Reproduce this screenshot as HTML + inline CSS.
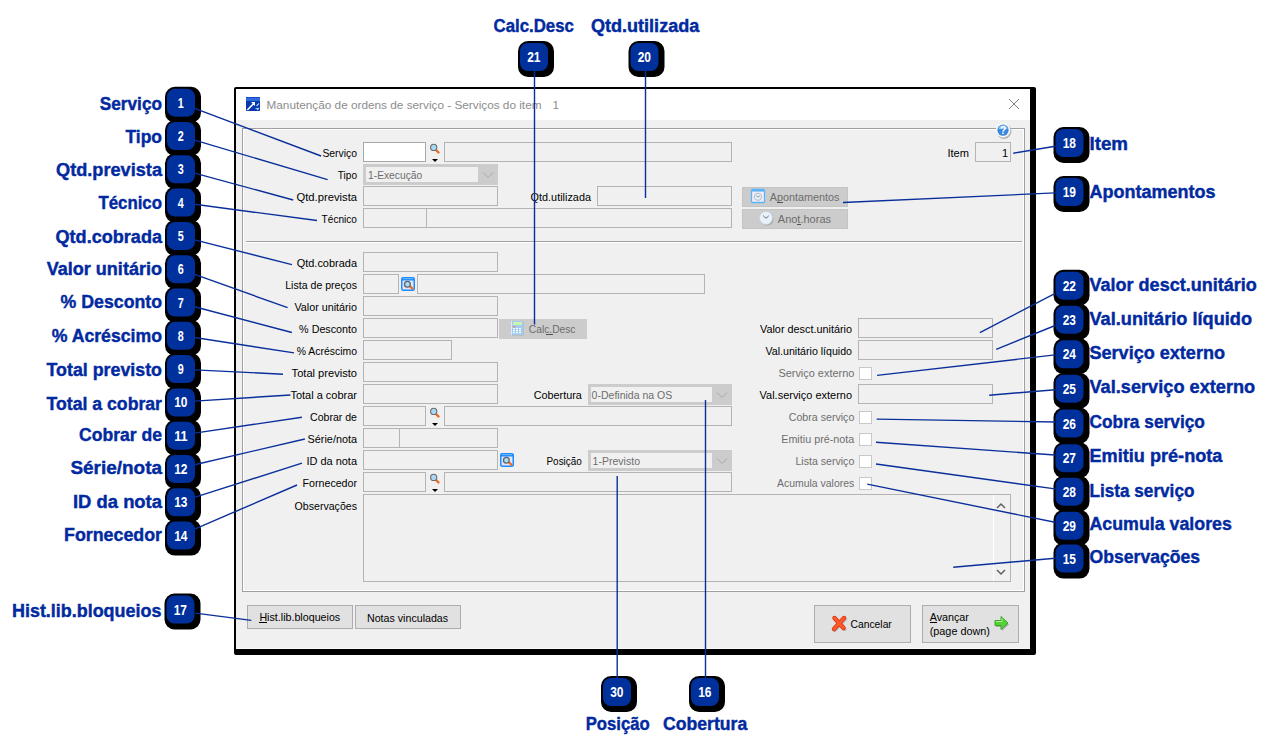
<!DOCTYPE html>
<html><head><meta charset="utf-8"><style>
html,body{margin:0;padding:0;background:#fff;width:1273px;height:753px;overflow:hidden}
svg{display:block;font-family:"Liberation Sans",sans-serif}
</style></head><body>
<svg width="1273" height="753" viewBox="0 0 1273 753">
<rect x="234" y="87" width="802" height="568" fill="#000" rx="2"/>
<rect x="236" y="89" width="794" height="560" fill="#f0f0f0"/>
<rect x="236" y="648" width="794" height="1" fill="#f8f8f8"/>
<rect x="236" y="89" width="794" height="31" fill="#ffffff"/>
<rect x="246" y="97" width="14" height="14" rx="0.8" fill="#0638b0"/>
<rect x="246" y="97" width="14" height="4" fill="#2e6ad8"/>
<rect x="246" y="97" width="14" height="1" fill="#1050d0"/>
<path d="M247.3 110 L254 103.3" stroke="#fff" stroke-width="1.6" fill="none"/>
<path d="M251 102 L255 102 L255 106 Z" fill="#fff"/>
<path d="M256.5 106 L259 103.5 M255.5 108.5 l3 0 M257 110 l2 -2" stroke="#a8c4f0" stroke-width="1.2" fill="none"/>
<text x="266.5" y="108.7" font-size="11.8" fill="#8c8c8c" textLength="275.0" lengthAdjust="spacingAndGlyphs">Manutenção de ordens de serviço - Serviços do item</text>
<text x="552.5" y="108.7" font-size="11.8" fill="#8c8c8c">1</text>
<path d="M1009 99 L1019 109 M1019 99 L1009 109" stroke="#808080" stroke-width="1"/>
<rect x="242.5" y="128.5" width="782" height="463" fill="none" stroke="#a0a0a0"/>
<rect x="243.5" y="129.5" width="780" height="461" fill="none" stroke="#ffffff"/>
<circle cx="1004" cy="131.5" r="7.5" fill="#b8b8b8"/>
<circle cx="1003" cy="130.2" r="7.2" fill="#f8f8f8"/>
<circle cx="1003" cy="130.2" r="5.6" fill="#3a88dc"/>
<path d="M998.5 129 A4.6 4.6 0 0 1 1007.5 129" fill="#8cc4f4"/>
<text x="1003" y="134.3" font-size="10" font-weight="bold" fill="#fff" text-anchor="middle">?</text>
<rect x="246" y="241" width="776" height="1" fill="#a0a0a0"/>
<rect x="246" y="242" width="776" height="1" fill="#ffffff"/>
<text x="322.4" y="157" font-size="11" fill="#000" textLength="34.6" lengthAdjust="spacingAndGlyphs">Serviço</text>
<rect x="363.5" y="142.5" width="62" height="19" fill="#ffffff" stroke="#a8a8a8" stroke-width="1"/>
<path d="M436 150 L438.5 152.5" stroke="#f06a20" stroke-width="2.4" stroke-linecap="round"/>
<circle cx="433.7" cy="147.4" r="3.1" fill="#a8d8f4" stroke="#6c6c6c" stroke-width="1.1"/>
<path d="M432 159 L438 159 L435 162 Z" fill="#000"/>
<rect x="444.5" y="142.5" width="287" height="19" fill="#f0f0f0" stroke="#b4b4b4" stroke-width="1"/>
<text x="947.4" y="157" font-size="11" fill="#000" textLength="21.6" lengthAdjust="spacingAndGlyphs">Item</text>
<rect x="975.5" y="142.5" width="35" height="19" fill="#f0f0f0" stroke="#b4b4b4" stroke-width="1"/>
<text x="1008" y="157" font-size="11" fill="#000" text-anchor="end">1</text>
<text x="337.8" y="179" font-size="11" fill="#000" textLength="19.2" lengthAdjust="spacingAndGlyphs">Tipo</text>
<rect x="363" y="164" width="135" height="21" fill="#cccccc"/>
<rect x="366" y="167" width="112" height="15" fill="#f0f0f0"/>
<path d="M483 172.5 L488 177.5 L493 172.5" stroke="#a8a8a8" stroke-width="1" fill="none"/>
<text x="368" y="179" font-size="11" fill="#6d6d6d" textLength="54.2" lengthAdjust="spacingAndGlyphs">1-Execução</text>
<text x="296.5" y="201" font-size="11" fill="#000" textLength="60.5" lengthAdjust="spacingAndGlyphs">Qtd.prevista</text>
<rect x="363.5" y="186.5" width="134" height="19" fill="#f0f0f0" stroke="#b4b4b4" stroke-width="1"/>
<text x="530.6" y="201" font-size="11" fill="#000" textLength="60.4" lengthAdjust="spacingAndGlyphs">Qtd.utilizada</text>
<rect x="597.5" y="186.5" width="134" height="19" fill="#f0f0f0" stroke="#b4b4b4" stroke-width="1"/>
<rect x="742.5" y="187.5" width="105" height="19" fill="#cccccc" stroke="#c4c4c4" stroke-width="1"/>
<rect x="751.5" y="189.5" width="13" height="13" rx="1" fill="#f0eefa" stroke="#5ab4f8" stroke-width="1.3"/>
<rect x="752" y="190" width="12" height="1.6" fill="#5ab4f8"/>
<circle cx="758" cy="196.8" r="3.6" fill="#e4f4fc" stroke="#b0b0b8" stroke-width="0.9"/>
<path d="M756.3 195.6 L758 197.2 L759.8 195.8" stroke="#707070" stroke-width="0.8" fill="none"/>
<text x="769.7" y="200.7" font-size="11" fill="#6d6d6d" textLength="69.7" lengthAdjust="spacingAndGlyphs">Apontamentos</text>
<rect x="777" y="202" width="6" height="1" fill="#505050"/>
<text x="321.6" y="223" font-size="11" fill="#000" textLength="35.4" lengthAdjust="spacingAndGlyphs">Técnico</text>
<rect x="363.5" y="208.5" width="63" height="19" fill="#f0f0f0" stroke="#b4b4b4" stroke-width="1"/>
<rect x="426.5" y="208.5" width="305" height="19" fill="#f0f0f0" stroke="#b4b4b4" stroke-width="1"/>
<rect x="742.5" y="209.5" width="105" height="19" fill="#cccccc" stroke="#c4c4c4" stroke-width="1"/>
<circle cx="767" cy="219" r="6.6" fill="#a8a8a8"/>
<circle cx="766" cy="218" r="6.5" fill="#e8f2fa" stroke="#c8d0e0" stroke-width="0.8"/>
<path d="M763.2 215.6 L766 218.3 L768.8 215.8" stroke="#6a6a6a" stroke-width="1" fill="none"/>
<text x="777.8" y="222.8" font-size="11" fill="#6d6d6d" textLength="53.2" lengthAdjust="spacingAndGlyphs">Anot.horas</text>
<rect x="797" y="224" width="4" height="1" fill="#505050"/>
<text x="296.7" y="267" font-size="11" fill="#000" textLength="60.3" lengthAdjust="spacingAndGlyphs">Qtd.cobrada</text>
<rect x="363.5" y="252.5" width="134" height="19" fill="#f0f0f0" stroke="#b4b4b4" stroke-width="1"/>
<text x="285.2" y="289" font-size="11" fill="#000" textLength="71.8" lengthAdjust="spacingAndGlyphs">Lista de preços</text>
<rect x="363.5" y="274.5" width="35" height="19" fill="#f0f0f0" stroke="#b4b4b4" stroke-width="1"/>
<rect x="401.75" y="277.75" width="12.5" height="12.5" rx="1.5" fill="#e8e4f8" stroke="#1a8cff" stroke-width="1.5"/>
<rect x="402" y="278" width="12" height="2.5" fill="#1a8cff"/>
<rect x="403" y="278.3" width="10" height="0.8" fill="#8cc8ff"/>
<path d="M409.8 286 L413 289.3" stroke="#f06a20" stroke-width="2.2"/>
<circle cx="407.4" cy="284.3" r="2.9" fill="#a8dcf4" stroke="#606468" stroke-width="1.3"/>
<rect x="417.5" y="274.5" width="287" height="19" fill="#f0f0f0" stroke="#b4b4b4" stroke-width="1"/>
<text x="294.4" y="311" font-size="11" fill="#000" textLength="62.6" lengthAdjust="spacingAndGlyphs">Valor unitário</text>
<rect x="363.5" y="296.5" width="134" height="19" fill="#f0f0f0" stroke="#b4b4b4" stroke-width="1"/>
<text x="299.1" y="333" font-size="11" fill="#000" textLength="57.9" lengthAdjust="spacingAndGlyphs">% Desconto</text>
<rect x="363.5" y="318.5" width="134" height="19" fill="#f0f0f0" stroke="#b4b4b4" stroke-width="1"/>
<rect x="499.5" y="319.5" width="87" height="19" fill="#cccccc" stroke="#cccccc" stroke-width="1"/>
<rect x="512" y="322" width="12" height="14" fill="#b4b4b4" opacity="0.6"/>
<rect x="511" y="321" width="12" height="14" fill="#a0ccf4"/>
<rect x="511" y="321" width="1" height="14" fill="#d8ecfc"/>
<rect x="513" y="322" width="9" height="3" fill="#c8f4b0"/>
<rect x="513" y="326" width="2" height="1.5" fill="#f08070"/>
<rect x="513" y="328" width="2" height="1.2" fill="#ffffff"/>
<rect x="516" y="328" width="2" height="1.2" fill="#ffffff"/>
<rect x="519" y="328" width="2" height="1.2" fill="#ffffff"/>
<rect x="513" y="330" width="2" height="1.2" fill="#ffffff"/>
<rect x="516" y="330" width="2" height="1.2" fill="#ffffff"/>
<rect x="519" y="330" width="2" height="1.2" fill="#ffffff"/>
<rect x="513" y="332" width="2" height="1.2" fill="#ffffff"/>
<rect x="516" y="332" width="2" height="1.2" fill="#ffffff"/>
<rect x="519" y="332" width="2" height="1.2" fill="#ffffff"/>
<text x="528.8" y="333" font-size="11" fill="#6d6d6d" textLength="46.7" lengthAdjust="spacingAndGlyphs">Calc.Desc</text>
<rect x="546" y="334" width="7" height="1" fill="#505050"/>
<text x="760" y="333" font-size="11" fill="#000" textLength="92.0" lengthAdjust="spacingAndGlyphs">Valor desct.unitário</text>
<rect x="858.5" y="318.5" width="134" height="19" fill="#f0f0f0" stroke="#b4b4b4" stroke-width="1"/>
<text x="296.7" y="355" font-size="11" fill="#000" textLength="60.3" lengthAdjust="spacingAndGlyphs">% Acréscimo</text>
<rect x="363.5" y="340.5" width="88" height="19" fill="#f0f0f0" stroke="#b4b4b4" stroke-width="1"/>
<text x="765.5" y="355" font-size="11" fill="#000" textLength="86.5" lengthAdjust="spacingAndGlyphs">Val.unitário líquido</text>
<rect x="858.5" y="340.5" width="134" height="19" fill="#f0f0f0" stroke="#b4b4b4" stroke-width="1"/>
<text x="291.6" y="377" font-size="11" fill="#000" textLength="65.4" lengthAdjust="spacingAndGlyphs">Total previsto</text>
<rect x="363.5" y="362.5" width="134" height="19" fill="#f0f0f0" stroke="#b4b4b4" stroke-width="1"/>
<text x="778.4" y="377" font-size="11" fill="#6e6e6e" textLength="75.9" lengthAdjust="spacingAndGlyphs">Serviço externo</text>
<rect x="859.5" y="367.5" width="12" height="12" fill="#ffffff" stroke="#c8c8c8" stroke-width="1"/>
<text x="290.4" y="399" font-size="11" fill="#000" textLength="66.6" lengthAdjust="spacingAndGlyphs">Total a cobrar</text>
<rect x="363.5" y="384.5" width="134" height="19" fill="#f0f0f0" stroke="#b4b4b4" stroke-width="1"/>
<text x="533.7" y="399" font-size="11" fill="#000" textLength="48.1" lengthAdjust="spacingAndGlyphs">Cobertura</text>
<rect x="588" y="384" width="144" height="21" fill="#cccccc"/>
<rect x="591" y="387" width="121" height="15" fill="#f0f0f0"/>
<path d="M717 392.5 L722 397.5 L727 392.5" stroke="#a8a8a8" stroke-width="1" fill="none"/>
<text x="591.6" y="399" font-size="11" fill="#6d6d6d" textLength="80.7" lengthAdjust="spacingAndGlyphs">0-Definida na OS</text>
<text x="759.6" y="399" font-size="11" fill="#000" textLength="92.4" lengthAdjust="spacingAndGlyphs">Val.serviço externo</text>
<rect x="858.5" y="384.5" width="134" height="19" fill="#f0f0f0" stroke="#b4b4b4" stroke-width="1"/>
<text x="310" y="421" font-size="11" fill="#000" textLength="47.0" lengthAdjust="spacingAndGlyphs">Cobrar de</text>
<rect x="363.5" y="406.5" width="62" height="19" fill="#f0f0f0" stroke="#b4b4b4" stroke-width="1"/>
<path d="M436 414 L438.5 416.5" stroke="#f06a20" stroke-width="2.4" stroke-linecap="round"/>
<circle cx="433.7" cy="411.4" r="3.1" fill="#a8d8f4" stroke="#6c6c6c" stroke-width="1.1"/>
<path d="M432 423 L438 423 L435 426 Z" fill="#000"/>
<rect x="444.5" y="406.5" width="287" height="19" fill="#f0f0f0" stroke="#b4b4b4" stroke-width="1"/>
<text x="788.8" y="421" font-size="11" fill="#6e6e6e" textLength="65.5" lengthAdjust="spacingAndGlyphs">Cobra serviço</text>
<rect x="859.5" y="411.5" width="12" height="12" fill="#ffffff" stroke="#c8c8c8" stroke-width="1"/>
<text x="307.6" y="443" font-size="11" fill="#000" textLength="49.4" lengthAdjust="spacingAndGlyphs">Série/nota</text>
<rect x="363.5" y="428.5" width="36" height="19" fill="#f0f0f0" stroke="#b4b4b4" stroke-width="1"/>
<rect x="399.5" y="428.5" width="98" height="19" fill="#f0f0f0" stroke="#b4b4b4" stroke-width="1"/>
<text x="781.2" y="443" font-size="11" fill="#6e6e6e" textLength="73.1" lengthAdjust="spacingAndGlyphs">Emitiu pré-nota</text>
<rect x="859.5" y="433.5" width="12" height="12" fill="#ffffff" stroke="#c8c8c8" stroke-width="1"/>
<text x="306.4" y="465" font-size="11" fill="#000" textLength="50.6" lengthAdjust="spacingAndGlyphs">ID da nota</text>
<rect x="363.5" y="450.5" width="134" height="19" fill="#f0f0f0" stroke="#b4b4b4" stroke-width="1"/>
<rect x="500.75" y="453.75" width="12.5" height="12.5" rx="1.5" fill="#e8e4f8" stroke="#1a8cff" stroke-width="1.5"/>
<rect x="501" y="454" width="12" height="2.5" fill="#1a8cff"/>
<rect x="502" y="454.3" width="10" height="0.8" fill="#8cc8ff"/>
<path d="M508.8 462 L512 465.3" stroke="#f06a20" stroke-width="2.2"/>
<circle cx="506.4" cy="460.3" r="2.9" fill="#a8dcf4" stroke="#606468" stroke-width="1.3"/>
<text x="546.5" y="465" font-size="11" fill="#000" textLength="35.3" lengthAdjust="spacingAndGlyphs">Posição</text>
<rect x="588" y="450" width="144" height="21" fill="#cccccc"/>
<rect x="591" y="453" width="121" height="15" fill="#f0f0f0"/>
<path d="M717 458.5 L722 463.5 L727 458.5" stroke="#a8a8a8" stroke-width="1" fill="none"/>
<text x="592.6" y="465" font-size="11" fill="#6d6d6d" textLength="47.4" lengthAdjust="spacingAndGlyphs">1-Previsto</text>
<text x="795.4" y="465" font-size="11" fill="#6e6e6e" textLength="58.9" lengthAdjust="spacingAndGlyphs">Lista serviço</text>
<rect x="859.5" y="455.5" width="12" height="12" fill="#ffffff" stroke="#c8c8c8" stroke-width="1"/>
<text x="302.6" y="487" font-size="11" fill="#000" textLength="54.4" lengthAdjust="spacingAndGlyphs">Fornecedor</text>
<rect x="363.5" y="472.5" width="62" height="19" fill="#f0f0f0" stroke="#b4b4b4" stroke-width="1"/>
<path d="M436 480 L438.5 482.5" stroke="#f06a20" stroke-width="2.4" stroke-linecap="round"/>
<circle cx="433.7" cy="477.4" r="3.1" fill="#a8d8f4" stroke="#6c6c6c" stroke-width="1.1"/>
<path d="M432 489 L438 489 L435 492 Z" fill="#000"/>
<rect x="444.5" y="472.5" width="287" height="19" fill="#f0f0f0" stroke="#b4b4b4" stroke-width="1"/>
<text x="777" y="487" font-size="11" fill="#6e6e6e" textLength="77.3" lengthAdjust="spacingAndGlyphs">Acumula valores</text>
<rect x="859.5" y="477.5" width="12" height="12" fill="#ffffff" stroke="#c8c8c8" stroke-width="1"/>
<text x="294.6" y="510" font-size="11" fill="#000" textLength="62.4" lengthAdjust="spacingAndGlyphs">Observações</text>
<rect x="363.5" y="494.5" width="647" height="87" fill="#f0f0f0" stroke="#b4b4b4" stroke-width="1"/>
<rect x="993" y="495" width="1" height="86" fill="#ffffff"/>
<path d="M997 508 L1001 504 L1005 508" stroke="#606060" stroke-width="1.5" fill="none"/>
<path d="M997 570 L1001 574 L1005 570" stroke="#606060" stroke-width="1.5" fill="none"/>
<rect x="247.5" y="605.5" width="105" height="23" fill="#e1e1e1" stroke="#adadad" stroke-width="1"/>
<text x="259.4" y="621" font-size="11" fill="#000" textLength="80.8" lengthAdjust="spacingAndGlyphs">Hist.lib.bloqueios</text>
<rect x="259" y="622" width="8" height="1" fill="#000"/>
<rect x="355.5" y="605.5" width="105" height="23" fill="#e1e1e1" stroke="#adadad" stroke-width="1"/>
<text x="367" y="622" font-size="11" fill="#000" textLength="81.1" lengthAdjust="spacingAndGlyphs">Notas vinculadas</text>
<rect x="814.5" y="605.5" width="96" height="37" fill="#e1e1e1" stroke="#adadad" stroke-width="1"/>
<path d="M835.5 619 L844.5 629 M845 619 L835 630" stroke="#909090" stroke-width="4" stroke-linecap="round" opacity="0.5"/>
<path d="M834.5 618 L843.5 628 M844 618 L834 629" stroke="#d83010" stroke-width="4.4" stroke-linecap="round"/>
<path d="M834.5 618 L843.5 628 M844 618 L834 629" stroke="#ff5a28" stroke-width="3" stroke-linecap="round"/>
<text x="850.6" y="627.5" font-size="11" fill="#000" textLength="41.2" lengthAdjust="spacingAndGlyphs">Cancelar</text>
<rect x="922.5" y="605.5" width="96" height="37" fill="#e1e1e1" stroke="#adadad" stroke-width="1"/>
<text x="929.7" y="620.5" font-size="11" fill="#000" textLength="39.2" lengthAdjust="spacingAndGlyphs">Avançar</text>
<rect x="930" y="622" width="7" height="1" fill="#000"/>
<text x="929.7" y="634.5" font-size="11" fill="#000" textLength="60.3" lengthAdjust="spacingAndGlyphs">(page down)</text>
<path d="M996 622 h6 v-4 l7 6.5 l-7 6.5 v-4 h-6 z" fill="#707070" opacity="0.45"/>
<path d="M995 620.5 h6 v-4 l7 6.5 l-7 6.5 v-4 h-6 z" fill="#58d038" stroke="#30a020" stroke-width="0.9"/>
<path d="M996 621.5 h6 v-3" stroke="#a8f090" stroke-width="1" fill="none"/>
<rect x="165" y="86.7" width="36" height="36" rx="10" fill="#000"/>
<rect x="167" y="88.7" width="28" height="28" rx="8" fill="#00309b"/>
<text x="180.8" y="107.7" font-size="13.8" font-weight="bold" fill="#fff" text-anchor="middle" textLength="6" lengthAdjust="spacingAndGlyphs">1</text>
<rect x="165" y="120.0" width="36" height="36" rx="10" fill="#000"/>
<rect x="167" y="122.0" width="28" height="28" rx="8" fill="#00309b"/>
<text x="180.8" y="141.0" font-size="13.8" font-weight="bold" fill="#fff" text-anchor="middle" textLength="6" lengthAdjust="spacingAndGlyphs">2</text>
<rect x="165" y="153.3" width="36" height="36" rx="10" fill="#000"/>
<rect x="167" y="155.3" width="28" height="28" rx="8" fill="#00309b"/>
<text x="180.8" y="174.3" font-size="13.8" font-weight="bold" fill="#fff" text-anchor="middle" textLength="6" lengthAdjust="spacingAndGlyphs">3</text>
<rect x="165" y="186.6" width="36" height="36" rx="10" fill="#000"/>
<rect x="167" y="188.6" width="28" height="28" rx="8" fill="#00309b"/>
<text x="180.8" y="207.6" font-size="13.8" font-weight="bold" fill="#fff" text-anchor="middle" textLength="6" lengthAdjust="spacingAndGlyphs">4</text>
<rect x="165" y="219.89999999999998" width="36" height="36" rx="10" fill="#000"/>
<rect x="167" y="221.89999999999998" width="28" height="28" rx="8" fill="#00309b"/>
<text x="180.8" y="240.89999999999998" font-size="13.8" font-weight="bold" fill="#fff" text-anchor="middle" textLength="6" lengthAdjust="spacingAndGlyphs">5</text>
<rect x="165" y="253.2" width="36" height="36" rx="10" fill="#000"/>
<rect x="167" y="255.2" width="28" height="28" rx="8" fill="#00309b"/>
<text x="180.8" y="274.2" font-size="13.8" font-weight="bold" fill="#fff" text-anchor="middle" textLength="6" lengthAdjust="spacingAndGlyphs">6</text>
<rect x="165" y="286.5" width="36" height="36" rx="10" fill="#000"/>
<rect x="167" y="288.5" width="28" height="28" rx="8" fill="#00309b"/>
<text x="180.8" y="307.5" font-size="13.8" font-weight="bold" fill="#fff" text-anchor="middle" textLength="6" lengthAdjust="spacingAndGlyphs">7</text>
<rect x="165" y="319.79999999999995" width="36" height="36" rx="10" fill="#000"/>
<rect x="167" y="321.79999999999995" width="28" height="28" rx="8" fill="#00309b"/>
<text x="180.8" y="340.79999999999995" font-size="13.8" font-weight="bold" fill="#fff" text-anchor="middle" textLength="6" lengthAdjust="spacingAndGlyphs">8</text>
<rect x="165" y="353.09999999999997" width="36" height="36" rx="10" fill="#000"/>
<rect x="167" y="355.09999999999997" width="28" height="28" rx="8" fill="#00309b"/>
<text x="180.8" y="374.09999999999997" font-size="13.8" font-weight="bold" fill="#fff" text-anchor="middle" textLength="6" lengthAdjust="spacingAndGlyphs">9</text>
<rect x="165" y="386.4" width="36" height="36" rx="10" fill="#000"/>
<rect x="167" y="388.4" width="28" height="28" rx="8" fill="#00309b"/>
<text x="180.8" y="407.4" font-size="13.8" font-weight="bold" fill="#fff" text-anchor="middle" textLength="13.3" lengthAdjust="spacingAndGlyphs">10</text>
<rect x="165" y="419.7" width="36" height="36" rx="10" fill="#000"/>
<rect x="167" y="421.7" width="28" height="28" rx="8" fill="#00309b"/>
<text x="180.8" y="440.7" font-size="13.8" font-weight="bold" fill="#fff" text-anchor="middle" textLength="13.3" lengthAdjust="spacingAndGlyphs">11</text>
<rect x="165" y="452.99999999999994" width="36" height="36" rx="10" fill="#000"/>
<rect x="167" y="454.99999999999994" width="28" height="28" rx="8" fill="#00309b"/>
<text x="180.8" y="473.99999999999994" font-size="13.8" font-weight="bold" fill="#fff" text-anchor="middle" textLength="13.3" lengthAdjust="spacingAndGlyphs">12</text>
<rect x="165" y="486.29999999999995" width="36" height="36" rx="10" fill="#000"/>
<rect x="167" y="488.29999999999995" width="28" height="28" rx="8" fill="#00309b"/>
<text x="180.8" y="507.29999999999995" font-size="13.8" font-weight="bold" fill="#fff" text-anchor="middle" textLength="13.3" lengthAdjust="spacingAndGlyphs">13</text>
<rect x="165" y="519.6" width="36" height="36" rx="10" fill="#000"/>
<rect x="167" y="521.6" width="28" height="28" rx="8" fill="#00309b"/>
<text x="180.8" y="540.6" font-size="13.8" font-weight="bold" fill="#fff" text-anchor="middle" textLength="13.3" lengthAdjust="spacingAndGlyphs">14</text>
<rect x="164.5" y="593.5" width="36" height="36" rx="10" fill="#000"/>
<rect x="166.5" y="595.5" width="28" height="28" rx="8" fill="#00309b"/>
<text x="180.3" y="614.5" font-size="13.8" font-weight="bold" fill="#fff" text-anchor="middle" textLength="13.3" lengthAdjust="spacingAndGlyphs">17</text>
<rect x="518" y="41" width="36" height="36" rx="10" fill="#000"/>
<rect x="520" y="43" width="28" height="28" rx="8" fill="#00309b"/>
<text x="533.8" y="62.0" font-size="13.8" font-weight="bold" fill="#fff" text-anchor="middle" textLength="13.3" lengthAdjust="spacingAndGlyphs">21</text>
<rect x="628.5" y="41" width="36" height="36" rx="10" fill="#000"/>
<rect x="630.5" y="43" width="28" height="28" rx="8" fill="#00309b"/>
<text x="644.3" y="62.0" font-size="13.8" font-weight="bold" fill="#fff" text-anchor="middle" textLength="13.3" lengthAdjust="spacingAndGlyphs">20</text>
<rect x="601" y="676" width="36" height="36" rx="10" fill="#000"/>
<rect x="603" y="678" width="28" height="28" rx="8" fill="#00309b"/>
<text x="616.8" y="697.0" font-size="13.8" font-weight="bold" fill="#fff" text-anchor="middle" textLength="13.3" lengthAdjust="spacingAndGlyphs">30</text>
<rect x="689" y="676" width="36" height="36" rx="10" fill="#000"/>
<rect x="691" y="678" width="28" height="28" rx="8" fill="#00309b"/>
<text x="704.8" y="697.0" font-size="13.8" font-weight="bold" fill="#fff" text-anchor="middle" textLength="13.3" lengthAdjust="spacingAndGlyphs">16</text>
<rect x="1053.5" y="127" width="36" height="36" rx="10" fill="#000"/>
<rect x="1055.5" y="129" width="28" height="28" rx="8" fill="#00309b"/>
<text x="1069.3" y="148.0" font-size="13.8" font-weight="bold" fill="#fff" text-anchor="middle" textLength="13.3" lengthAdjust="spacingAndGlyphs">18</text>
<rect x="1053.5" y="176" width="36" height="36" rx="10" fill="#000"/>
<rect x="1055.5" y="178" width="28" height="28" rx="8" fill="#00309b"/>
<text x="1069.3" y="197.0" font-size="13.8" font-weight="bold" fill="#fff" text-anchor="middle" textLength="13.3" lengthAdjust="spacingAndGlyphs">19</text>
<rect x="1053.5" y="269.7" width="36" height="36" rx="10" fill="#000"/>
<rect x="1055.5" y="271.7" width="28" height="28" rx="8" fill="#00309b"/>
<text x="1069.3" y="290.7" font-size="13.8" font-weight="bold" fill="#fff" text-anchor="middle" textLength="13.3" lengthAdjust="spacingAndGlyphs">22</text>
<rect x="1053.5" y="303.7" width="36" height="36" rx="10" fill="#000"/>
<rect x="1055.5" y="305.7" width="28" height="28" rx="8" fill="#00309b"/>
<text x="1069.3" y="324.7" font-size="13.8" font-weight="bold" fill="#fff" text-anchor="middle" textLength="13.3" lengthAdjust="spacingAndGlyphs">23</text>
<rect x="1053.5" y="338.3" width="36" height="36" rx="10" fill="#000"/>
<rect x="1055.5" y="340.3" width="28" height="28" rx="8" fill="#00309b"/>
<text x="1069.3" y="359.3" font-size="13.8" font-weight="bold" fill="#fff" text-anchor="middle" textLength="13.3" lengthAdjust="spacingAndGlyphs">24</text>
<rect x="1053.5" y="372.7" width="36" height="36" rx="10" fill="#000"/>
<rect x="1055.5" y="374.7" width="28" height="28" rx="8" fill="#00309b"/>
<text x="1069.3" y="393.7" font-size="13.8" font-weight="bold" fill="#fff" text-anchor="middle" textLength="13.3" lengthAdjust="spacingAndGlyphs">25</text>
<rect x="1053.5" y="407.6" width="36" height="36" rx="10" fill="#000"/>
<rect x="1055.5" y="409.6" width="28" height="28" rx="8" fill="#00309b"/>
<text x="1069.3" y="428.6" font-size="13.8" font-weight="bold" fill="#fff" text-anchor="middle" textLength="13.3" lengthAdjust="spacingAndGlyphs">26</text>
<rect x="1053.5" y="442.2" width="36" height="36" rx="10" fill="#000"/>
<rect x="1055.5" y="444.2" width="28" height="28" rx="8" fill="#00309b"/>
<text x="1069.3" y="463.2" font-size="13.8" font-weight="bold" fill="#fff" text-anchor="middle" textLength="13.3" lengthAdjust="spacingAndGlyphs">27</text>
<rect x="1053.5" y="475.7" width="36" height="36" rx="10" fill="#000"/>
<rect x="1055.5" y="477.7" width="28" height="28" rx="8" fill="#00309b"/>
<text x="1069.3" y="496.7" font-size="13.8" font-weight="bold" fill="#fff" text-anchor="middle" textLength="13.3" lengthAdjust="spacingAndGlyphs">28</text>
<rect x="1053.5" y="509.8" width="36" height="36" rx="10" fill="#000"/>
<rect x="1055.5" y="511.8" width="28" height="28" rx="8" fill="#00309b"/>
<text x="1069.3" y="530.8" font-size="13.8" font-weight="bold" fill="#fff" text-anchor="middle" textLength="13.3" lengthAdjust="spacingAndGlyphs">29</text>
<rect x="1053.5" y="542.6" width="36" height="36" rx="10" fill="#000"/>
<rect x="1055.5" y="544.6" width="28" height="28" rx="8" fill="#00309b"/>
<text x="1069.3" y="563.6" font-size="13.8" font-weight="bold" fill="#fff" text-anchor="middle" textLength="13.3" lengthAdjust="spacingAndGlyphs">15</text>
<path d="M194.6 108.4 L321.1 156.0" stroke="#0a2f9a" stroke-width="1.4" fill="none"/>
<path d="M194.6 140.2 L327.6 179.6" stroke="#0a2f9a" stroke-width="1.4" fill="none"/>
<path d="M194.6 173.1 L293.2 200.0" stroke="#0a2f9a" stroke-width="1.4" fill="none"/>
<path d="M194.6 204.3 L317.0 220.5" stroke="#0a2f9a" stroke-width="1.4" fill="none"/>
<path d="M194.6 239.9 L291.9 264.6" stroke="#0a2f9a" stroke-width="1.4" fill="none"/>
<path d="M194.6 274.3 L287.6 307.7" stroke="#0a2f9a" stroke-width="1.4" fill="none"/>
<path d="M194.6 306.8 L291.9 332.5" stroke="#0a2f9a" stroke-width="1.4" fill="none"/>
<path d="M194.6 337.5 L294.1 352.9" stroke="#0a2f9a" stroke-width="1.4" fill="none"/>
<path d="M194.6 369.9 L283.0 374.2" stroke="#0a2f9a" stroke-width="1.4" fill="none"/>
<path d="M194.6 401.1 L290.4 395.0" stroke="#0a2f9a" stroke-width="1.4" fill="none"/>
<path d="M194.6 433.1 L301.9 417.3" stroke="#0a2f9a" stroke-width="1.4" fill="none"/>
<path d="M194.6 464.7 L304.9 439.0" stroke="#0a2f9a" stroke-width="1.4" fill="none"/>
<path d="M195.2 497.1 L302.0 463.2" stroke="#0a2f9a" stroke-width="1.4" fill="none"/>
<path d="M195.2 528.8 L297.0 485.0" stroke="#0a2f9a" stroke-width="1.4" fill="none"/>
<path d="M195.3 613.1 L251.3 620.4" stroke="#0a2f9a" stroke-width="1.4" fill="none"/>
<path d="M534.5 71.0 L534.5 324.5" stroke="#0a2f9a" stroke-width="1.4" fill="none"/>
<path d="M645.5 71.0 L645.5 198.0" stroke="#0a2f9a" stroke-width="1.4" fill="none"/>
<path d="M617.2 476.0 L617.2 678.0" stroke="#0a2f9a" stroke-width="1.4" fill="none"/>
<path d="M705.5 400.0 L705.5 678.0" stroke="#0a2f9a" stroke-width="1.4" fill="none"/>
<path d="M1055.2 146.2 L1013.3 153.2" stroke="#0a2f9a" stroke-width="1.4" fill="none"/>
<path d="M1055.2 192.9 L843.0 202.5" stroke="#0a2f9a" stroke-width="1.4" fill="none"/>
<path d="M1055.2 293.4 L979.9 332.6" stroke="#0a2f9a" stroke-width="1.4" fill="none"/>
<path d="M1055.2 325.5 L996.2 349.3" stroke="#0a2f9a" stroke-width="1.4" fill="none"/>
<path d="M1055.2 354.9 L877.1 375.4" stroke="#0a2f9a" stroke-width="1.4" fill="none"/>
<path d="M1055.2 389.7 L989.2 395.2" stroke="#0a2f9a" stroke-width="1.4" fill="none"/>
<path d="M1055.0 422.0 L876.7 419.1" stroke="#0a2f9a" stroke-width="1.4" fill="none"/>
<path d="M1055.0 455.0 L876.0 442.3" stroke="#0a2f9a" stroke-width="1.4" fill="none"/>
<path d="M1055.0 488.9 L876.0 464.0" stroke="#0a2f9a" stroke-width="1.4" fill="none"/>
<path d="M1055.0 522.3 L867.2 484.1" stroke="#0a2f9a" stroke-width="1.4" fill="none"/>
<path d="M1055.0 558.2 L953.2 567.3" stroke="#0a2f9a" stroke-width="1.4" fill="none"/>
<text x="99.8" y="110.3" font-size="17.5" font-weight="bold" fill="#022aa0" stroke="#022aa0" stroke-width="0.4" textLength="62.2" lengthAdjust="spacingAndGlyphs">Serviço</text>
<text x="125.5" y="142.8" font-size="17.5" font-weight="bold" fill="#022aa0" stroke="#022aa0" stroke-width="0.4" textLength="36.5" lengthAdjust="spacingAndGlyphs">Tipo</text>
<text x="56" y="175.8" font-size="17.5" font-weight="bold" fill="#022aa0" stroke="#022aa0" stroke-width="0.4" textLength="106.0" lengthAdjust="spacingAndGlyphs">Qtd.prevista</text>
<text x="98.4" y="208.8" font-size="17.5" font-weight="bold" fill="#022aa0" stroke="#022aa0" stroke-width="0.4" textLength="63.6" lengthAdjust="spacingAndGlyphs">Técnico</text>
<text x="55.5" y="242.5" font-size="17.5" font-weight="bold" fill="#022aa0" stroke="#022aa0" stroke-width="0.4" textLength="106.5" lengthAdjust="spacingAndGlyphs">Qtd.cobrada</text>
<text x="46.7" y="275.3" font-size="17.5" font-weight="bold" fill="#022aa0" stroke="#022aa0" stroke-width="0.4" textLength="115.3" lengthAdjust="spacingAndGlyphs">Valor unitário</text>
<text x="60.6" y="308.40000000000003" font-size="17.5" font-weight="bold" fill="#022aa0" stroke="#022aa0" stroke-width="0.4" textLength="101.4" lengthAdjust="spacingAndGlyphs">% Desconto</text>
<text x="51.7" y="342.1" font-size="17.5" font-weight="bold" fill="#022aa0" stroke="#022aa0" stroke-width="0.4" textLength="110.3" lengthAdjust="spacingAndGlyphs">% Acréscimo</text>
<text x="46.5" y="375.8" font-size="17.5" font-weight="bold" fill="#022aa0" stroke="#022aa0" stroke-width="0.4" textLength="115.5" lengthAdjust="spacingAndGlyphs">Total previsto</text>
<text x="46.5" y="409.5" font-size="17.5" font-weight="bold" fill="#022aa0" stroke="#022aa0" stroke-width="0.4" textLength="115.5" lengthAdjust="spacingAndGlyphs">Total a cobrar</text>
<text x="79.1" y="441.40000000000003" font-size="17.5" font-weight="bold" fill="#022aa0" stroke="#022aa0" stroke-width="0.4" textLength="82.9" lengthAdjust="spacingAndGlyphs">Cobrar de</text>
<text x="70.4" y="474.2" font-size="17.5" font-weight="bold" fill="#022aa0" stroke="#022aa0" stroke-width="0.4" textLength="91.6" lengthAdjust="spacingAndGlyphs">Série/nota</text>
<text x="73" y="507.5" font-size="17.5" font-weight="bold" fill="#022aa0" stroke="#022aa0" stroke-width="0.4" textLength="89.0" lengthAdjust="spacingAndGlyphs">ID da nota</text>
<text x="64" y="541.1999999999999" font-size="17.5" font-weight="bold" fill="#022aa0" stroke="#022aa0" stroke-width="0.4" textLength="98.0" lengthAdjust="spacingAndGlyphs">Fornecedor</text>
<text x="12" y="617" font-size="17.5" font-weight="bold" fill="#022aa0" stroke="#022aa0" stroke-width="0.4" textLength="149.4" lengthAdjust="spacingAndGlyphs">Hist.lib.bloqueios</text>
<text x="493.6" y="31.8" font-size="17.5" font-weight="bold" fill="#022aa0" stroke="#022aa0" stroke-width="0.4" textLength="80.3" lengthAdjust="spacingAndGlyphs">Calc.Desc</text>
<text x="590.9" y="31.8" font-size="17.5" font-weight="bold" fill="#022aa0" stroke="#022aa0" stroke-width="0.4" textLength="108.4" lengthAdjust="spacingAndGlyphs">Qtd.utilizada</text>
<text x="585.7" y="730.4" font-size="17.5" font-weight="bold" fill="#022aa0" stroke="#022aa0" stroke-width="0.4" textLength="64.1" lengthAdjust="spacingAndGlyphs">Posição</text>
<text x="663" y="730.4" font-size="17.5" font-weight="bold" fill="#022aa0" stroke="#022aa0" stroke-width="0.4" textLength="84.2" lengthAdjust="spacingAndGlyphs">Cobertura</text>
<text x="1089.5" y="149.7" font-size="17.5" font-weight="bold" fill="#022aa0" stroke="#022aa0" stroke-width="0.4" textLength="38.5" lengthAdjust="spacingAndGlyphs">Item</text>
<text x="1089.5" y="198.0" font-size="17.5" font-weight="bold" fill="#022aa0" stroke="#022aa0" stroke-width="0.4" textLength="126.0" lengthAdjust="spacingAndGlyphs">Apontamentos</text>
<text x="1089.5" y="290.8" font-size="17.5" font-weight="bold" fill="#022aa0" stroke="#022aa0" stroke-width="0.4" textLength="167.3" lengthAdjust="spacingAndGlyphs">Valor desct.unitário</text>
<text x="1089.5" y="324.59999999999997" font-size="17.5" font-weight="bold" fill="#022aa0" stroke="#022aa0" stroke-width="0.4" textLength="162.5" lengthAdjust="spacingAndGlyphs">Val.unitário líquido</text>
<text x="1089.5" y="358.59999999999997" font-size="17.5" font-weight="bold" fill="#022aa0" stroke="#022aa0" stroke-width="0.4" textLength="135.5" lengthAdjust="spacingAndGlyphs">Serviço externo</text>
<text x="1089.5" y="393.2" font-size="17.5" font-weight="bold" fill="#022aa0" stroke="#022aa0" stroke-width="0.4" textLength="165.7" lengthAdjust="spacingAndGlyphs">Val.serviço externo</text>
<text x="1089.5" y="428.4" font-size="17.5" font-weight="bold" fill="#022aa0" stroke="#022aa0" stroke-width="0.4" textLength="115.4" lengthAdjust="spacingAndGlyphs">Cobra serviço</text>
<text x="1089.5" y="462.3" font-size="17.5" font-weight="bold" fill="#022aa0" stroke="#022aa0" stroke-width="0.4" textLength="132.9" lengthAdjust="spacingAndGlyphs">Emitiu pré-nota</text>
<text x="1089.5" y="497.3" font-size="17.5" font-weight="bold" fill="#022aa0" stroke="#022aa0" stroke-width="0.4" textLength="104.9" lengthAdjust="spacingAndGlyphs">Lista serviço</text>
<text x="1089.5" y="530.0" font-size="17.5" font-weight="bold" fill="#022aa0" stroke="#022aa0" stroke-width="0.4" textLength="142.4" lengthAdjust="spacingAndGlyphs">Acumula valores</text>
<text x="1089.5" y="562.7" font-size="17.5" font-weight="bold" fill="#022aa0" stroke="#022aa0" stroke-width="0.4" textLength="110.6" lengthAdjust="spacingAndGlyphs">Observações</text>
</svg></body></html>
